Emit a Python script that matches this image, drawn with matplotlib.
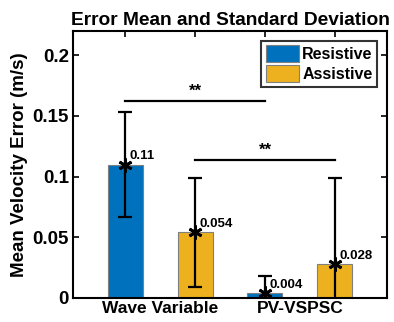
import numpy as np
import matplotlib
matplotlib.use("Agg")
import matplotlib.pyplot as plt

plt.rcParams["font.family"] = ["Liberation Sans", "DejaVu Sans"]
plt.rcParams["font.weight"] = "bold"

groups = ["Wave Variable", "PV-VSPSC"]
series = ["Resistive", "Assistive"]
means = [0.11, 0.054, 0.004, 0.028]
stds = [0.043, 0.045, 0.0143, 0.071]
value_labels = ["0.11", "0.054", "0.004", "0.028"]
bar_series = [0, 1, 0, 1]
COLORS = ["#0072BD", "#EDB120"]
# significance brackets: (start bar, end bar, height)
sig_pairs = [(1, 3, 0.162), (2, 4, 0.1136)]

fig = plt.figure(figsize=(3.94, 3.22), dpi=100)
ax = fig.add_axes([73 / 394, 24 / 322, 314 / 394, 267 / 322])

x = np.arange(1, len(means) + 1)
for xi, m, s in zip(x, means, bar_series):
    ax.bar(xi, m, width=0.5, color=COLORS[s], edgecolor="#7f7f7f", linewidth=0.8,
           label=series[s] if xi <= 2 else None, zorder=2)
ax.errorbar(x, means, yerr=stds, fmt="none", ecolor="black", elinewidth=1.6,
            capsize=5, capthick=1.6, zorder=3)
ax.plot(x, means, marker=(6, 2, 0), linestyle="none", color="black",
        markersize=10, markeredgewidth=2, zorder=4)
for xi, m, lab in zip(x, means, value_labels):
    ax.text(xi + 0.07, m + 0.002, lab, fontsize=9.5, fontweight="bold", ha="left", va="bottom")

for a, b, h in sig_pairs:
    ax.plot([a, b], [h, h], color="black", linewidth=1.6)
    ax.text((a + b) / 2, h + 0.002, "**", ha="center", va="bottom", fontsize=12, fontweight="bold")

ax.set_xlim(0.257, 4.743)
ax.set_ylim(0, 0.22)
ax.set_xticks(x)
ax.set_xticklabels([])
ax.set_xticks([1.5, 3.5], minor=True)
ax.set_xticklabels(groups, minor=True, fontsize=12.5, fontweight="bold")
ax.tick_params(axis="x", which="minor", length=0, pad=2)
ax.set_yticks([0, 0.05, 0.1, 0.15, 0.2])
ax.set_yticklabels(["0", "0.05", "0.1", "0.15", "0.2"], fontsize=13.5, fontweight="bold")
ax.tick_params(which="major", direction="in", top=True, right=True, length=4, width=1.2)
ax.tick_params(axis="y", pad=3)
for sp in ax.spines.values():
    sp.set_linewidth(1.5)

ax.set_ylabel("Mean Velocity Error (m/s)", fontsize=13.5, fontweight="bold", labelpad=3)
ax.set_title("Error Mean and Standard Deviation", fontsize=13.8, fontweight="bold", pad=4)

leg = ax.legend(loc="upper right", fontsize=11.5, frameon=True, fancybox=False,
                handlelength=2.1, handleheight=1.2, handletextpad=0.2,
                borderpad=0.3, labelspacing=0.2, borderaxespad=0.6)
leg.get_frame().set_edgecolor("black")
leg.get_frame().set_linewidth(1.5)
for t in leg.get_texts():
    t.set_fontweight("bold")

fig.savefig("out.png", dpi=100)
